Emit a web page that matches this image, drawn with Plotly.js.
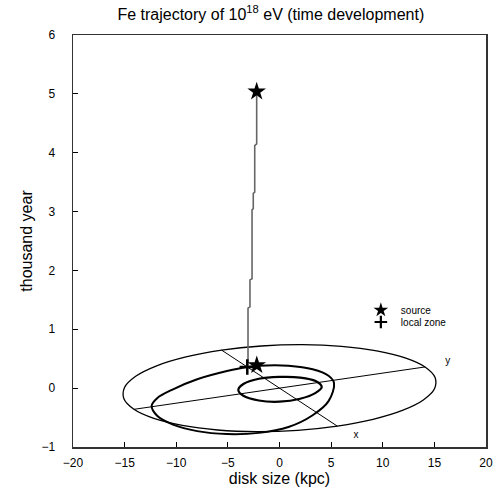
<!DOCTYPE html>
<html>
<head>
<meta charset="utf-8">
<script src="https://cdn.plot.ly/plotly-3.0.1.min.js"></script>
<style>html,body{margin:0;padding:0;background:#fff;}#chart{width:495px;height:498px;}</style>
</head>
<body>
<div id="chart"></div>
<script>
// Outer galactic disk boundary (projected)
const diskX = [5.6, 9.06, 11.90, 13.93, 15.01, 15.07, 14.1, 12.17, 9.41, 6.01, 2.2, -1.76, -5.6, -9.06, -11.90, -13.93, -15.01, -15.07, -14.1, -12.17, -9.41, -6.01, -2.2, 1.76, 5.6];
const diskY = [-0.645, -0.530, -0.379, -0.201, -0.011, 0.181, 0.36, 0.515, 0.634, 0.711, 0.739, 0.716, 0.645, 0.530, 0.379, 0.201, 0.011, -0.181, -0.36, -0.515, -0.634, -0.711, -0.739, -0.716, -0.645];
// Disk coordinate axes
const axisYLineX = [-14.1, 14.1];
const axisYLineY = [-0.36, 0.36];
const axisXLineX = [-5.6, 5.6];
const axisXLineY = [0.645, -0.645];
const axisLabels = ["y", "x"];
const axisLabelX = [16.3, 7.4];
const axisLabelY = [0.45, -0.81];
// Trajectory loops in the disk
const loopOuterX = [5.28, 4.75, 3.21, 0.87, -2.01, -3.12, -5.09, -7.97, -10.31, -11.85, -12.38, -11.85, -10.31, -7.97, -5.09, -2.01, 0.87, 3.21, 4.75, 5.28];
const loopOuterY = [0.09, 0.21, 0.32, 0.38, 0.38, 0.36, 0.29, 0.15, -0.02, -0.17, -0.30, -0.47, -0.62, -0.73, -0.78, -0.76, -0.66, -0.46, -0.22, 0.09];
const loopInnerX = [4.09, 3.5, 2, 0, -2, -3.5, -3.99, -3.5, -2, 0, 2, 3.5, 4.09];
const loopInnerY = [0.02, 0.12, 0.18, 0.19, 0.16, 0.07, -0.03, -0.13, -0.21, -0.23, -0.18, -0.08, 0.02];
// Time development path (local zone -> source)
const pathX = [-3.12, -3.05, -3.05, -2.86, -2.86, -2.66, -2.66, -2.54, -2.54, -2.40, -2.40, -2.21, -2.21];
const pathY = [0.36, 0.45, 1.36, 1.38, 1.84, 1.86, 3.03, 3.05, 3.31, 3.33, 4.12, 4.15, 5.04];
// Markers
const sourceX = [-2.21, -2.2];
const sourceY = [5.04, 0.39];
const localX = [-3.12];
const localY = [0.36];
const legendNames = ["source", "local zone"];

const FONT = "Liberation Sans, Arial, sans-serif";

const traces = [
  {x: diskX, y: diskY, mode: "lines", line: {color: "#000", width: 1.3, shape: "spline"}, showlegend: false, hoverinfo: "skip"},
  {x: axisYLineX, y: axisYLineY, mode: "lines", line: {color: "#000", width: 1}, showlegend: false, hoverinfo: "skip"},
  {x: axisXLineX, y: axisXLineY, mode: "lines", line: {color: "#000", width: 1}, showlegend: false, hoverinfo: "skip"},
  {x: loopOuterX, y: loopOuterY, mode: "lines", line: {color: "#000", width: 2, shape: "spline"}, showlegend: false, hoverinfo: "skip"},
  {x: loopInnerX, y: loopInnerY, mode: "lines", line: {color: "#000", width: 2.2, shape: "spline"}, showlegend: false, hoverinfo: "skip"},
  {x: pathX, y: pathY, mode: "lines", line: {color: "#666", width: 1.6}, showlegend: false, hoverinfo: "skip"},
  {x: axisLabelX, y: axisLabelY, text: axisLabels, mode: "text", textfont: {family: FONT, size: 10, color: "#000"}, showlegend: false, hoverinfo: "skip"},
  {x: sourceX, y: sourceY, mode: "markers", name: legendNames[0], showlegend: false, marker: {symbol: "star", size: 14, color: "#000", line: {width: 0}}},
  {x: localX, y: localY, mode: "markers", name: legendNames[1], showlegend: false, marker: {symbol: "cross-thin", size: 11, color: "#000", line: {width: 2.5, color: "#000"}}},
  // legend entries
  {x: [null], y: [null], mode: "markers", name: legendNames[0], legend: "legend", showlegend: true, marker: {symbol: "star", size: 11, color: "#000", line: {width: 0}}},
  {x: [null], y: [null], mode: "markers", name: legendNames[1], legend: "legend2", showlegend: true, marker: {symbol: "cross-thin", size: 9, color: "#000", line: {width: 2.2, color: "#000"}}}
];

const legendBase = {xanchor: "left", yanchor: "top", bgcolor: "rgba(0,0,0,0)", borderwidth: 0, font: {family: FONT, size: 10, color: "#000"}, itemwidth: 30};

const layout = {
  width: 495, height: 498,
  margin: {l: 73, r: 9, t: 35, b: 51},
  paper_bgcolor: "#fff", plot_bgcolor: "#fff",
  font: {family: FONT, color: "#000"},
  title: {text: "Fe trajectory of 10<sup>18</sup> eV (time development)", font: {family: FONT, size: 16, color: "#000"}, x: 0.479, xref: "paper", xanchor: "center", y: 0.972, yref: "container", yanchor: "middle"},
  xaxis: {
    range: [-20, 20], tickmode: "linear", tick0: -20, dtick: 5,
    ticks: "inside", ticklen: 5, tickwidth: 1, tickcolor: "#000",
    showline: true, linecolor: "#333", linewidth: 1.5, mirror: true,
    showgrid: false, zeroline: false,
    tickfont: {family: FONT, size: 12, color: "#000"}, ticklabelstandoff: 4,
    title: {text: "disk size (kpc)", font: {family: FONT, size: 16, color: "#000"}, standoff: 0}
  },
  yaxis: {
    range: [-1, 6], tickmode: "linear", tick0: -1, dtick: 1,
    ticks: "inside", ticklen: 5, tickwidth: 1, tickcolor: "#000",
    showline: true, linecolor: "#333", linewidth: 1.5, mirror: true,
    showgrid: false, zeroline: false,
    tickfont: {family: FONT, size: 12, color: "#000"}, ticklabelstandoff: 14,
    title: {text: "thousand year", font: {family: FONT, size: 16, color: "#000"}, standoff: 5}
  },
  showlegend: true,
  legend: Object.assign({x: 0.697, y: 0.3677}, legendBase),
  legend2: Object.assign({x: 0.697, y: 0.3386}, legendBase)
};

Plotly.newPlot("chart", traces, layout, {displayModeBar: false, staticPlot: true});
</script>
</body>
</html>
